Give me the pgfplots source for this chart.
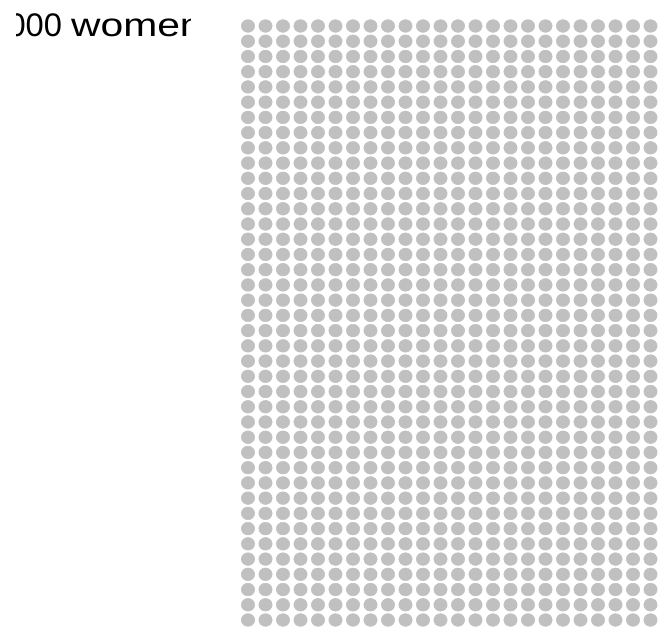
\documentclass[border=0pt]{standalone}
\usepackage{fontspec}
\setmainfont{Liberation Sans}
\usepackage{pgfplots}
\pgfplotsset{compat=1.18}
\definecolor{dotgrey}{HTML}{C0C0C0}
\begin{document}
\begin{tikzpicture}
\useasboundingbox (0,0) rectangle (499.5pt,470.25pt);
\begin{axis}[
  at={(0,0)}, anchor=south west,
  scale only axis, width=499.5pt, height=470.25pt,
  hide axis,
  xmin=-14.171, xmax=23.886,
  ymin=-1.707, ymax=39.46, y dir=reverse,
  clip=true, clip mode=individual,
]
\addplot[only marks, color=dotgrey, mark=*, mark size=5.0pt, mark options={fill=dotgrey, draw=none, yscale=0.95}] coordinates {
(0,0) (1,0) (2,0) (3,0) (4,0) (5,0) (6,0) (7,0) (8,0) (9,0) (10,0) (11,0) (12,0) (13,0) (14,0) (15,0) (16,0) (17,0) (18,0) (19,0) (20,0) (21,0) (22,0) (23,0) (24,0)
(0,1) (1,1) (2,1) (3,1) (4,1) (5,1) (6,1) (7,1) (8,1) (9,1) (10,1) (11,1) (12,1) (13,1) (14,1) (15,1) (16,1) (17,1) (18,1) (19,1) (20,1) (21,1) (22,1) (23,1) (24,1)
(0,2) (1,2) (2,2) (3,2) (4,2) (5,2) (6,2) (7,2) (8,2) (9,2) (10,2) (11,2) (12,2) (13,2) (14,2) (15,2) (16,2) (17,2) (18,2) (19,2) (20,2) (21,2) (22,2) (23,2) (24,2)
(0,3) (1,3) (2,3) (3,3) (4,3) (5,3) (6,3) (7,3) (8,3) (9,3) (10,3) (11,3) (12,3) (13,3) (14,3) (15,3) (16,3) (17,3) (18,3) (19,3) (20,3) (21,3) (22,3) (23,3) (24,3)
(0,4) (1,4) (2,4) (3,4) (4,4) (5,4) (6,4) (7,4) (8,4) (9,4) (10,4) (11,4) (12,4) (13,4) (14,4) (15,4) (16,4) (17,4) (18,4) (19,4) (20,4) (21,4) (22,4) (23,4) (24,4)
(0,5) (1,5) (2,5) (3,5) (4,5) (5,5) (6,5) (7,5) (8,5) (9,5) (10,5) (11,5) (12,5) (13,5) (14,5) (15,5) (16,5) (17,5) (18,5) (19,5) (20,5) (21,5) (22,5) (23,5) (24,5)
(0,6) (1,6) (2,6) (3,6) (4,6) (5,6) (6,6) (7,6) (8,6) (9,6) (10,6) (11,6) (12,6) (13,6) (14,6) (15,6) (16,6) (17,6) (18,6) (19,6) (20,6) (21,6) (22,6) (23,6) (24,6)
(0,7) (1,7) (2,7) (3,7) (4,7) (5,7) (6,7) (7,7) (8,7) (9,7) (10,7) (11,7) (12,7) (13,7) (14,7) (15,7) (16,7) (17,7) (18,7) (19,7) (20,7) (21,7) (22,7) (23,7) (24,7)
(0,8) (1,8) (2,8) (3,8) (4,8) (5,8) (6,8) (7,8) (8,8) (9,8) (10,8) (11,8) (12,8) (13,8) (14,8) (15,8) (16,8) (17,8) (18,8) (19,8) (20,8) (21,8) (22,8) (23,8) (24,8)
(0,9) (1,9) (2,9) (3,9) (4,9) (5,9) (6,9) (7,9) (8,9) (9,9) (10,9) (11,9) (12,9) (13,9) (14,9) (15,9) (16,9) (17,9) (18,9) (19,9) (20,9) (21,9) (22,9) (23,9) (24,9)
(0,10) (1,10) (2,10) (3,10) (4,10) (5,10) (6,10) (7,10) (8,10) (9,10) (10,10) (11,10) (12,10) (13,10) (14,10) (15,10) (16,10) (17,10) (18,10) (19,10) (20,10) (21,10) (22,10) (23,10) (24,10)
(0,11) (1,11) (2,11) (3,11) (4,11) (5,11) (6,11) (7,11) (8,11) (9,11) (10,11) (11,11) (12,11) (13,11) (14,11) (15,11) (16,11) (17,11) (18,11) (19,11) (20,11) (21,11) (22,11) (23,11) (24,11)
(0,12) (1,12) (2,12) (3,12) (4,12) (5,12) (6,12) (7,12) (8,12) (9,12) (10,12) (11,12) (12,12) (13,12) (14,12) (15,12) (16,12) (17,12) (18,12) (19,12) (20,12) (21,12) (22,12) (23,12) (24,12)
(0,13) (1,13) (2,13) (3,13) (4,13) (5,13) (6,13) (7,13) (8,13) (9,13) (10,13) (11,13) (12,13) (13,13) (14,13) (15,13) (16,13) (17,13) (18,13) (19,13) (20,13) (21,13) (22,13) (23,13) (24,13)
(0,14) (1,14) (2,14) (3,14) (4,14) (5,14) (6,14) (7,14) (8,14) (9,14) (10,14) (11,14) (12,14) (13,14) (14,14) (15,14) (16,14) (17,14) (18,14) (19,14) (20,14) (21,14) (22,14) (23,14) (24,14)
(0,15) (1,15) (2,15) (3,15) (4,15) (5,15) (6,15) (7,15) (8,15) (9,15) (10,15) (11,15) (12,15) (13,15) (14,15) (15,15) (16,15) (17,15) (18,15) (19,15) (20,15) (21,15) (22,15) (23,15) (24,15)
(0,16) (1,16) (2,16) (3,16) (4,16) (5,16) (6,16) (7,16) (8,16) (9,16) (10,16) (11,16) (12,16) (13,16) (14,16) (15,16) (16,16) (17,16) (18,16) (19,16) (20,16) (21,16) (22,16) (23,16) (24,16)
(0,17) (1,17) (2,17) (3,17) (4,17) (5,17) (6,17) (7,17) (8,17) (9,17) (10,17) (11,17) (12,17) (13,17) (14,17) (15,17) (16,17) (17,17) (18,17) (19,17) (20,17) (21,17) (22,17) (23,17) (24,17)
(0,18) (1,18) (2,18) (3,18) (4,18) (5,18) (6,18) (7,18) (8,18) (9,18) (10,18) (11,18) (12,18) (13,18) (14,18) (15,18) (16,18) (17,18) (18,18) (19,18) (20,18) (21,18) (22,18) (23,18) (24,18)
(0,19) (1,19) (2,19) (3,19) (4,19) (5,19) (6,19) (7,19) (8,19) (9,19) (10,19) (11,19) (12,19) (13,19) (14,19) (15,19) (16,19) (17,19) (18,19) (19,19) (20,19) (21,19) (22,19) (23,19) (24,19)
(0,20) (1,20) (2,20) (3,20) (4,20) (5,20) (6,20) (7,20) (8,20) (9,20) (10,20) (11,20) (12,20) (13,20) (14,20) (15,20) (16,20) (17,20) (18,20) (19,20) (20,20) (21,20) (22,20) (23,20) (24,20)
(0,21) (1,21) (2,21) (3,21) (4,21) (5,21) (6,21) (7,21) (8,21) (9,21) (10,21) (11,21) (12,21) (13,21) (14,21) (15,21) (16,21) (17,21) (18,21) (19,21) (20,21) (21,21) (22,21) (23,21) (24,21)
(0,22) (1,22) (2,22) (3,22) (4,22) (5,22) (6,22) (7,22) (8,22) (9,22) (10,22) (11,22) (12,22) (13,22) (14,22) (15,22) (16,22) (17,22) (18,22) (19,22) (20,22) (21,22) (22,22) (23,22) (24,22)
(0,23) (1,23) (2,23) (3,23) (4,23) (5,23) (6,23) (7,23) (8,23) (9,23) (10,23) (11,23) (12,23) (13,23) (14,23) (15,23) (16,23) (17,23) (18,23) (19,23) (20,23) (21,23) (22,23) (23,23) (24,23)
(0,24) (1,24) (2,24) (3,24) (4,24) (5,24) (6,24) (7,24) (8,24) (9,24) (10,24) (11,24) (12,24) (13,24) (14,24) (15,24) (16,24) (17,24) (18,24) (19,24) (20,24) (21,24) (22,24) (23,24) (24,24)
(0,25) (1,25) (2,25) (3,25) (4,25) (5,25) (6,25) (7,25) (8,25) (9,25) (10,25) (11,25) (12,25) (13,25) (14,25) (15,25) (16,25) (17,25) (18,25) (19,25) (20,25) (21,25) (22,25) (23,25) (24,25)
(0,26) (1,26) (2,26) (3,26) (4,26) (5,26) (6,26) (7,26) (8,26) (9,26) (10,26) (11,26) (12,26) (13,26) (14,26) (15,26) (16,26) (17,26) (18,26) (19,26) (20,26) (21,26) (22,26) (23,26) (24,26)
(0,27) (1,27) (2,27) (3,27) (4,27) (5,27) (6,27) (7,27) (8,27) (9,27) (10,27) (11,27) (12,27) (13,27) (14,27) (15,27) (16,27) (17,27) (18,27) (19,27) (20,27) (21,27) (22,27) (23,27) (24,27)
(0,28) (1,28) (2,28) (3,28) (4,28) (5,28) (6,28) (7,28) (8,28) (9,28) (10,28) (11,28) (12,28) (13,28) (14,28) (15,28) (16,28) (17,28) (18,28) (19,28) (20,28) (21,28) (22,28) (23,28) (24,28)
(0,29) (1,29) (2,29) (3,29) (4,29) (5,29) (6,29) (7,29) (8,29) (9,29) (10,29) (11,29) (12,29) (13,29) (14,29) (15,29) (16,29) (17,29) (18,29) (19,29) (20,29) (21,29) (22,29) (23,29) (24,29)
(0,30) (1,30) (2,30) (3,30) (4,30) (5,30) (6,30) (7,30) (8,30) (9,30) (10,30) (11,30) (12,30) (13,30) (14,30) (15,30) (16,30) (17,30) (18,30) (19,30) (20,30) (21,30) (22,30) (23,30) (24,30)
(0,31) (1,31) (2,31) (3,31) (4,31) (5,31) (6,31) (7,31) (8,31) (9,31) (10,31) (11,31) (12,31) (13,31) (14,31) (15,31) (16,31) (17,31) (18,31) (19,31) (20,31) (21,31) (22,31) (23,31) (24,31)
(0,32) (1,32) (2,32) (3,32) (4,32) (5,32) (6,32) (7,32) (8,32) (9,32) (10,32) (11,32) (12,32) (13,32) (14,32) (15,32) (16,32) (17,32) (18,32) (19,32) (20,32) (21,32) (22,32) (23,32) (24,32)
(0,33) (1,33) (2,33) (3,33) (4,33) (5,33) (6,33) (7,33) (8,33) (9,33) (10,33) (11,33) (12,33) (13,33) (14,33) (15,33) (16,33) (17,33) (18,33) (19,33) (20,33) (21,33) (22,33) (23,33) (24,33)
(0,34) (1,34) (2,34) (3,34) (4,34) (5,34) (6,34) (7,34) (8,34) (9,34) (10,34) (11,34) (12,34) (13,34) (14,34) (15,34) (16,34) (17,34) (18,34) (19,34) (20,34) (21,34) (22,34) (23,34) (24,34)
(0,35) (1,35) (2,35) (3,35) (4,35) (5,35) (6,35) (7,35) (8,35) (9,35) (10,35) (11,35) (12,35) (13,35) (14,35) (15,35) (16,35) (17,35) (18,35) (19,35) (20,35) (21,35) (22,35) (23,35) (24,35)
(0,36) (1,36) (2,36) (3,36) (4,36) (5,36) (6,36) (7,36) (8,36) (9,36) (10,36) (11,36) (12,36) (13,36) (14,36) (15,36) (16,36) (17,36) (18,36) (19,36) (20,36) (21,36) (22,36) (23,36) (24,36)
(0,37) (1,37) (2,37) (3,37) (4,37) (5,37) (6,37) (7,37) (8,37) (9,37) (10,37) (11,37) (12,37) (13,37) (14,37) (15,37) (16,37) (17,37) (18,37) (19,37) (20,37) (21,37) (22,37) (23,37) (24,37)
(0,38) (1,38) (2,38) (3,38) (4,38) (5,38) (6,38) (7,38) (8,38) (9,38) (10,38) (11,38) (12,38) (13,38) (14,38) (15,38) (16,38) (17,38) (18,38) (19,38) (20,38) (21,38) (22,38) (23,38) (24,38)
(0,39) (1,39) (2,39) (3,39) (4,39) (5,39) (6,39) (7,39) (8,39) (9,39) (10,39) (11,39) (12,39) (13,39) (14,39) (15,39) (16,39) (17,39) (18,39) (19,39) (20,39) (21,39) (22,39) (23,39) (24,39)
};
\end{axis}
\begin{scope}
\clip (12pt,400pt) rectangle (142.5pt,470.25pt);
\node[anchor=base west, inner sep=0pt, font=\fontsize{24.5pt}{28pt}\selectfont] at (-15pt,442.7pt) {1,000 \scalebox{1.25}[1]{women}};
\end{scope}
\end{tikzpicture}
\end{document}
